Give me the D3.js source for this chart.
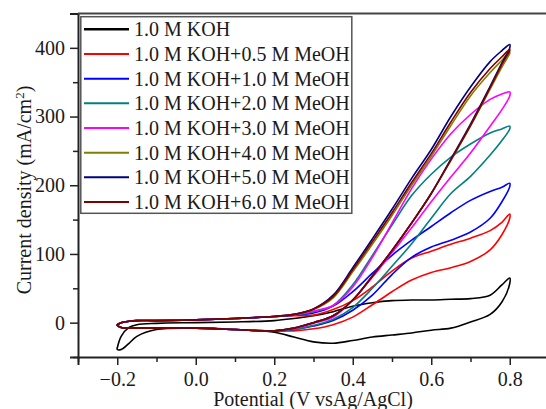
<!DOCTYPE html>
<html>
<head>
<meta charset="utf-8">
<script src="https://cdn.jsdelivr.net/npm/d3@7"></script>
<style>
body { margin: 0; background: #fff; }
text { font-family: "Times New Roman", "Liberation Serif", serif; fill: #1a1a1a; }
</style>
</head>
<body>
<div id="chart"></div>
<script>
// potential grid (V vs Ag/AgCl), shared by all scans
var potential = [-0.2, -0.19, -0.17, -0.15, -0.1, 0.0, 0.1, 0.2, 0.25, 0.3, 0.35, 0.4, 0.45, 0.5, 0.55, 0.6, 0.65, 0.7, 0.75, 0.78, 0.8];

var seriesNames = ["1.0 M KOH", "1.0 M KOH+0.5 M MeOH", "1.0 M KOH+1.0 M MeOH", "1.0 M KOH+2.0 M MeOH",
	"1.0 M KOH+3.0 M MeOH", "1.0 M KOH+4.0 M MeOH", "1.0 M KOH+5.0 M MeOH", "1.0 M KOH+6.0 M MeOH"];
var seriesColors = ["#000000", "#ff0000", "#0000ff", "#008080", "#ff00ff", "#808000", "#000080", "#800000"];

// current density (mA/cm2), upper branch and lower branch, read along the potential grid
var koh_up     = [-37, -20, -7, -3, -1, 0, 1, 3, 6, 10, 16, 24, 29, 32, 33, 33, 34, 35, 40, 55, 65];
var koh_down   = [-39, -39, -30, -20, -10, -8, -10, -14, -21, -28, -30, -26, -21, -18, -15, -11, -8, 1, 12, 30, 57];
var m05_up     = [-3, 0, 2, 3, 3, 4, 6, 9, 10, 11, 19, 32, 52, 75, 94, 104, 114, 123, 134, 146, 158];
var m05_down   = [-4, -7, -8, -8, -8, -8, -10, -12, -12, -9, -3, 8, 26, 45, 62, 73, 80, 89, 106, 128, 152];
var m10_up     = [-3, 0, 2, 3, 3, 4, 6, 9, 11, 14, 24, 45, 72, 98, 120, 140, 160, 178, 191, 197, 203];
var m10_down   = [-4, -7, -8, -8, -8, -8, -10, -12, -10, -5, 3, 18, 40, 70, 95, 110, 120, 132, 152, 176, 198];
var m20_up     = [-3, 0, 2, 3, 3, 4, 6, 9, 11, 16, 25, 55, 98, 142, 185, 216, 241, 260, 276, 282, 286];
var m20_down   = [-4, -7, -8, -8, -8, -8, -10, -12, -10, -4, 5, 22, 50, 82, 115, 152, 188, 213, 244, 265, 282];
var m30_up     = [-3, 0, 2, 3, 3, 4, 6, 9, 11, 17, 25, 52, 95, 145, 195, 238, 275, 303, 325, 333, 336];
var m30_down   = [-4, -7, -8, -8, -8, -8, -10, -12, -9, -1, 8, 33, 66, 102, 138, 176, 212, 247, 286, 310, 330];
var m40_up     = [-3, 0, 2, 3, 3, 4, 6, 9, 12, 19, 36, 74, 114, 156, 200, 242, 287, 330, 364, 382, 394];
var m40_down   = [-4, -7, -8, -8, -8, -8, -10, -12, -8, 0, 10, 33, 68, 105, 145, 188, 236, 286, 340, 372, 392];
var m50_up     = [-3, 0, 2, 3, 3, 4, 6, 9, 12, 20, 40, 80, 122, 165, 210, 252, 300, 343, 380, 396, 405];
var m50_down   = [-4, -7, -8, -8, -8, -8, -10, -12, -8, 0, 10, 33, 68, 105, 145, 188, 238, 289, 344, 378, 400];
var m60_up     = [-3, 0, 2, 3, 3, 4, 6, 9, 12, 20, 38, 77, 118, 160, 204, 246, 292, 335, 370, 387, 398];
var m60_down   = [-4, -7, -8, -8, -8, -8, -10, -12, -8, 0, 10, 33, 68, 105, 145, 188, 237, 287, 342, 376, 396];

var upBranches = [koh_up, m05_up, m10_up, m20_up, m30_up, m40_up, m50_up, m60_up];
var downBranches = [koh_down, m05_down, m10_down, m20_down, m30_down, m40_down, m50_down, m60_down];

var xTickValues = [-0.3, -0.2, -0.1, 0.0, 0.1, 0.2, 0.3, 0.4, 0.5, 0.6, 0.7, 0.8];
var xLabelValues = [-0.2, 0.0, 0.2, 0.4, 0.6, 0.8];
var yTickValues = [-50, 0, 50, 100, 150, 200, 250, 300, 350, 400];
var yLabelValues = [0, 100, 200, 300, 400];

function cv_chart (tag, width, height) {
	this.width = width;
	this.height = height;
	this.left = 78;
	this.top = 13.5;
	this.bottom = 357;
	this.svg = d3.select(tag)
		.append("svg")
		.attr("width", width)
		.attr("height", height);
	this.x = d3.scaleLinear().domain([-0.3, 0.9]).range([this.left, 549]);
	this.y = d3.scaleLinear().domain([-50, 450]).range([this.bottom, this.top]);
}

cv_chart.prototype = {
	loops : function() {
		var self = this;
		var line = d3.line()
			.x(function(d) { return self.x(d[0]); })
			.y(function(d) { return self.y(d[1]); })
			.curve(d3.curveCatmullRom.alpha(0.5));
		var data = upBranches.map(function(up, k) {
			var pts = potential.map(function(v, i) { return [v, up[i]]; });
			var down = downBranches[k];
			for (var i = potential.length - 1; i >= 0; i--) {
				pts.push([potential[i], down[i]]);
			}
			pts.push(pts[0]);
			return pts;
		});
		self.svg.append("g")
			.selectAll("path")
			.data(data)
			.enter()
			.append("path")
			.attr("d", line)
			.attr("fill", "none")
			.attr("stroke", function(d, i) { return seriesColors[i]; })
			.attr("stroke-width", 1.6)
			.attr("stroke-linejoin", "round");
	},
	axes : function() {
		var self = this;
		var fmtX = function(d) {
			return xLabelValues.some(function(v) { return Math.abs(v - d) < 1e-9; }) ? d3.format(".1f")(d) : "";
		};
		var fmtY = function(d) {
			return yLabelValues.indexOf(d) >= 0 ? d : "";
		};
		var gx = self.svg.append("g")
			.attr("transform", "translate(0," + self.bottom + ")")
			.call(d3.axisBottom(self.x).tickValues(xTickValues).tickFormat(fmtX).tickSize(8).tickPadding(7));
		gx.selectAll(".tick line")
			.attr("y2", function(d) { return fmtX(d) === "" ? 5 : 8; });
		var gy = self.svg.append("g")
			.attr("transform", "translate(" + self.left + ",0)")
			.call(d3.axisLeft(self.y).tickValues(yTickValues).tickFormat(fmtY).tickSize(8).tickPadding(5));
		gy.selectAll(".tick line")
			.attr("x2", function(d) { return fmtY(d) === "" ? -5 : -8; });
		[gx, gy].forEach(function(g) {
			g.select(".domain").attr("stroke", "#222").attr("stroke-width", 2);
			g.selectAll(".tick line").attr("stroke", "#222").attr("stroke-width", 1.5);
			g.selectAll("text")
				.attr("font-family", "'Times New Roman', 'Liberation Serif', serif")
				.attr("font-size", 20)
				.attr("fill", "#1a1a1a");
		});
		// top frame
		self.svg.append("line")
			.attr("x1", self.left).attr("x2", self.width)
			.attr("y1", self.top).attr("y2", self.top)
			.attr("stroke", "#444").attr("stroke-width", 2);

		self.svg.append("text")
			.attr("x", 313)
			.attr("y", 406)
			.attr("text-anchor", "middle")
			.attr("font-size", 20)
			.text("Potential (V vsAg/AgCl)");

		var yl = self.svg.append("text")
			.attr("transform", "translate(31,190) rotate(-90)")
			.attr("text-anchor", "middle")
			.attr("font-size", 20);
		yl.append("tspan").text("Current density (mA/cm");
		yl.append("tspan").attr("baseline-shift", "super").attr("font-size", 13).text("2");
		yl.append("tspan").text(")");
	},
	legend : function() {
		var self = this;
		var g = self.svg.append("g");
		g.append("rect")
			.attr("x", 80.8).attr("y", 16.7)
			.attr("width", 271).attr("height", 196.6)
			.attr("fill", "#fff")
			.attr("stroke", "#555")
			.attr("stroke-width", 1.5);
		var rows = g.selectAll("g.row")
			.data(seriesNames)
			.enter()
			.append("g")
			.attr("class", "row")
			.attr("transform", function(d, i) { return "translate(0," + (29.3 + i * 24.67) + ")"; });
		rows.append("line")
			.attr("x1", 84).attr("x2", 129)
			.attr("y1", 0).attr("y2", 0)
			.attr("stroke", function(d, i) { return seriesColors[i]; })
			.attr("stroke-width", function(d, i) { return i == 0 ? 2.5 : 2; });
		rows.append("text")
			.attr("x", 134)
			.attr("y", 7)
			.attr("font-size", 20)
			.text(function(d) { return d; });
	}
};

var chart = new cv_chart("#chart", 546, 409);
chart.loops();
chart.axes();
chart.legend();
</script>
</body>
</html>
